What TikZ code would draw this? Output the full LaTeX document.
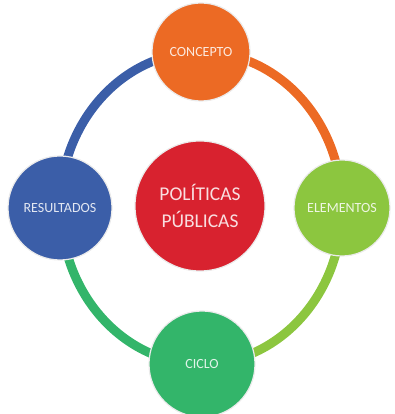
\documentclass[tikz,border=0pt]{standalone}
\usepackage{fontspec}
\setmainfont{Carlito}
\usetikzlibrary{backgrounds}
\definecolor{conceptocolour}{RGB}{236,106,36}
\definecolor{elementoscolour}{RGB}{140,198,63}
\definecolor{ciclocolour}{RGB}{51,181,106}
\definecolor{resultadoscolour}{RGB}{59,94,168}
\definecolor{centrecolour}{RGB}{216,34,47}

\begin{document}
\begin{tikzpicture}[x=1pt, y=1pt,
    phase/.style={circle, draw=white!92!black, line width=1.2pt, fill=#1, text=white!85!#1, inner sep=0pt, font=\fontsize{14}{16}\selectfont},
    ring/.style={line width=9pt}
]
\useasboundingbox (0,0) rectangle (394,414);

\node[phase=conceptocolour, minimum size=98pt] (concepto) at (201,362) {CONCEPTO};
\node[phase=elementoscolour, minimum size=96pt] (elementos) at (342,206) {ELEMENTOS};
\node[phase=ciclocolour, minimum size=106pt] (ciclo) at (202,50) {CICLO};
\node[phase=resultadoscolour, minimum size=104pt] (resultados) at (60,206) {RESULTADOS};
\node[phase=centrecolour, minimum size=130pt, align=center, font=\fontsize{19.5}{27}\selectfont] (politicas) at (200,208) {POLÍTICAS\\PÚBLICAS};

% ring segments behind the nodes
\begin{scope}[on background layer]
\draw[ring, draw=conceptocolour] (concepto.center) arc[start angle=90, end angle=0, x radius=141, y radius=156];
\draw[ring, draw=elementoscolour] (elementos.center) arc[start angle=0, end angle=-90, x radius=141, y radius=156];
\draw[ring, draw=ciclocolour] (ciclo.center) arc[start angle=-90, end angle=-180, x radius=141, y radius=156];
\draw[ring, draw=resultadoscolour] (resultados.center) arc[start angle=180, end angle=90, x radius=141, y radius=156];
\end{scope}

\end{tikzpicture}
\end{document}
